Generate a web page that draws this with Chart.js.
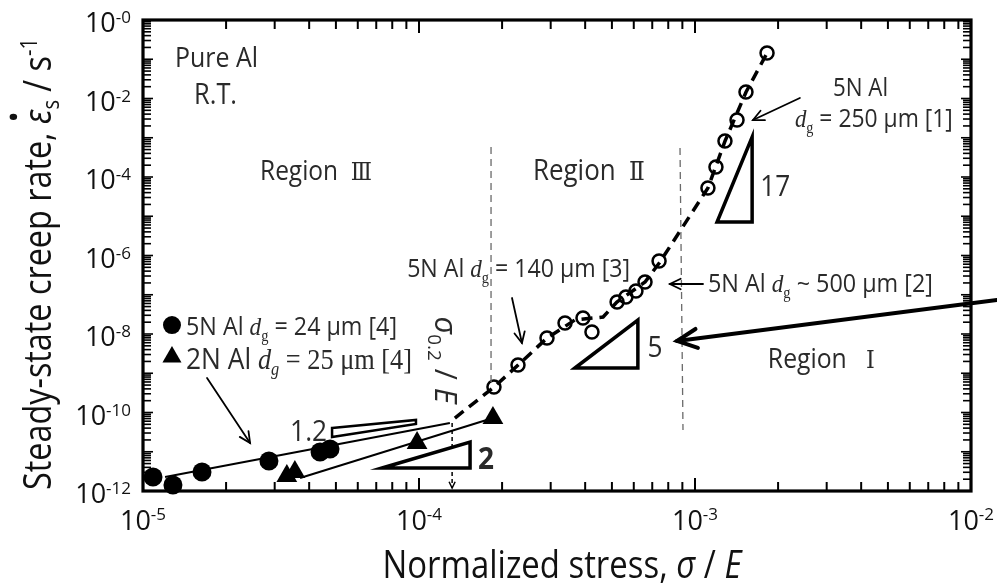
<!DOCTYPE html>
<html><head><meta charset="utf-8">
<script src="https://cdn.jsdelivr.net/npm/chart.js@4.4.1/dist/chart.umd.min.js"></script>
<style>html,body{margin:0;padding:0;background:#fff;}#wrap{width:997px;height:585px;position:relative;}</style>
</head><body><div id="wrap"><canvas id="c" width="997" height="585"></canvas></div>
<script>
// ---------------- data ----------------
const x5N24 = [1.087e-5, 1.284e-5, 1.636e-5, 2.86e-5, 4.38e-5, 4.76e-5];
const y5N24 = [2.28e-12, 1.42e-12, 3.05e-12, 5.81e-12, 9.86e-12, 1.175e-11];
const x2N25 = [3.32e-5, 3.55e-5, 9.84e-5, 1.853e-4];
const y2N25 = [2.41e-12, 3.05e-12, 1.67e-11, 7.24e-11];
const x5Ncoarse = [1.869e-4, 2.284e-4, 2.909e-4, 3.381e-4, 3.928e-4, 4.233e-4, 5.22e-4, 5.62e-4, 6.11e-4, 6.59e-4, 7.41e-4,
                   1.114e-3, 1.191e-3, 1.284e-3, 1.420e-3, 1.530e-3, 1.824e-3];
const y5Ncoarse = [4.47e-10, 1.62e-9, 7.91e-9, 1.91e-8, 2.56e-8, 1.12e-8, 6.53e-8, 8.77e-8, 1.25e-7, 2.11e-7, 7.24e-7,
                   5.25e-5, 1.80e-4, 8.26e-4, 2.83e-3, 1.47e-2, 1.44e-1];
const xFit5N = [1.202e-5, 1.294e-4];
const yFit5N = [2.28e-12, 5.40e-11];
const xFit2N = [3.707e-5, 1.854e-4];
const yFit2N = [2.14e-12, 7.24e-11];
const xFitCoarse = [1.349e-4, 1.871e-4, 2.286e-4, 2.911e-4, 3.673e-4, 4.645e-4, 5.212e-4, 6.592e-4, 7.464e-4, 1.114e-3, 1.285e-3, 1.531e-3, 1.824e-3];
const yFitCoarse = [7.24e-11, 4.47e-10, 1.62e-9, 7.91e-9, 2.28e-8, 2.71e-8, 6.53e-8, 2.11e-7, 6.82e-7, 5.25e-5, 8.26e-4, 1.466e-2, 0.144];
const xTickValues = [1e-5, 1e-4, 1e-3, 1e-2];
const xTickLabels = [['10','-5'], ['10','-4'], ['10','-3'], ['10','-2']];
const yTickValues = [1, 1e-2, 1e-4, 1e-6, 1e-8, 1e-10, 1e-12];
const yTickLabels = [['10','-0'], ['10','-2'], ['10','-4'], ['10','-6'], ['10','-8'], ['10','-10'], ['10','-12']];

// ---------------- annotations (positions in log10 data units) ----------------
const annoTexts = [
  {segs:[{t:'Pure Al'}], lx:-4.884, ly:-0.943, w:83, align:'left'},
  {segs:[{t:'R.T.'}], lx:-4.815, ly:-1.885, w:43, align:'left'},
  {segs:[{t:'Region  '},{t:'Ⅲ',num:true}], lx:-4.576, ly:-3.822, w:112, align:'left'},
  {segs:[{t:'Region  '},{t:'Ⅱ',num:true}], lx:-3.587, ly:-3.822, w:112, align:'left'},
  {segs:[{t:'Region   '},{t:'Ⅰ',num:true}], lx:-2.736, ly:-8.611, w:107, align:'left'},
  {segs:[{t:'5N Al'}], lx:-2.500, ly:-1.707, w:55, align:'left'},
  {segs:[{t:'d',italic:true,serif:true},{t:'g',sub:true,serif:true},{t:' = 250 μm [1]'}], lx:-2.638, ly:-2.497, w:158, align:'left'},
  {segs:[{t:'5N Al '},{t:'d',italic:true,serif:true},{t:'g',sub:true,serif:true},{t:' = 140 μm [3]'}], lx:-4.043, ly:-6.318, w:223, align:'left'},
  {segs:[{t:'5N Al '},{t:'d',italic:true,serif:true},{t:'g',sub:true,serif:true},{t:' ~ 500 μm [2]'}], lx:-2.953, ly:-6.701, w:225, align:'left'},
  {segs:[{t:'5N Al '},{t:'d',italic:true,serif:true},{t:'g',sub:true,serif:true},{t:' = 24 μm [4]'}], lx:-4.844, ly:-7.796, w:211, align:'left'},
  {segs:[{t:'2N Al '},{t:'d',italic:true,serif:true},{t:'g',sub:true,italic:true,serif:true},{t:' = 25 μm [4]',serif:true}], lx:-4.844, ly:-8.611, w:226, align:'left'},
  {segs:[{t:'1.2'}], lx:-4.467, ly:-10.446, w:37, align:'left'},
  {segs:[{t:'2',bold:true}], lx:-3.757, ly:-11.159, w:16, align:'center'},
  {segs:[{t:'5'}], lx:-3.145, ly:-8.331, w:15, align:'center'},
  {segs:[{t:'17'}], lx:-2.764, ly:-4.204, w:30, align:'left'}
];
const legendMarks = [{style:'circle', lx:-4.895, ly:-7.771, r:9}, {style:'triangle', lx:-4.895, ly:-8.586, r:11}];
const slopeTriangles = [
  {pts:[[-4.315,-10.395],[-4.011,-10.191],[-4.011,-10.293],[-4.315,-10.624]], lw:2.5},
  {pts:[[-4.134,-11.414],[-3.815,-10.752],[-3.815,-11.414]], lw:3.5},
  {pts:[[-3.435,-8.866],[-3.207,-7.643],[-3.207,-8.866]], lw:3.5},
  {pts:[[-2.920,-5.146],[-2.793,-2.981],[-2.793,-5.146]], lw:3.5}
];
const regionLines = [
  {from:[-3.739,-3.236], to:[-3.739,-9.299]},
  {from:[-3.0543,-3.261], to:[-3.0435,-10.446]}
];
const arrows = [
  {from:[-4.768,-9.121], to:[-4.612,-10.777], lw:1.8, head:12},
  {from:[-3.663,-7.083], to:[-3.627,-8.229], lw:1.8, head:12},
  {from:[-2.971,-6.726], to:[-3.091,-6.726], lw:1.8, head:12},
  {from:[-2.620,-1.987], to:[-2.790,-2.548], lw:1.8, head:12},
  {from:[-1.906,-7.134], to:[-3.065,-8.178], lw:4, head:22}
];
const yieldLine = {from:[-3.880,-10.268], to:[-3.880,-11.924]};
const yieldText = {segs:[{t:'σ',italic:true},{t:'0.2',sub:true},{t:' / '},{t:'E',italic:true}], lx:-3.913, ly:-8.662, w:87};

// ---------------- helpers ----------------
const SANS = '"Open Sans", "Noto Sans CJK JP", sans-serif';
const SERIF = '"Liberation Serif", "DejaVu Serif", serif';
const NUMF = '"DejaVu Serif", "Noto Sans CJK JP", serif';
const TXT = '#2a2a2a';
function segFont(s, size){
  const sz = size * ((s.sub || s.sup) ? 0.62 : 1) * (s.num ? 0.9 : 1);
  return (s.italic ? 'italic ' : '') + (s.bold ? 'bold ' : '') + sz.toFixed(2) + 'px ' + (s.num ? NUMF : s.serif ? SERIF : SANS);
}
function richWidth(ctx, segs, size){
  let w = 0;
  for (const s of segs){ ctx.font = segFont(s, size); w += ctx.measureText(s.t).width; }
  return w;
}
function drawRich(ctx, segs, x, y, size, align, sx){
  sx = sx || 1;
  const w = richWidth(ctx, segs, size) * sx;
  const x0 = align === 'left' ? x : align === 'right' ? x - w : x - w / 2;
  ctx.save(); ctx.translate(x0, y); ctx.scale(sx, 1);
  ctx.textAlign = 'left'; ctx.textBaseline = 'alphabetic';
  let cx = 0;
  for (const s of segs){
    ctx.font = segFont(s, size);
    const sw = ctx.measureText(s.t).width;
    const dy = s.sub ? size * 0.22 : s.sup ? -size * 0.38 : 0;
    ctx.fillText(s.t, cx, dy);
    if (s.dot){ ctx.beginPath(); ctx.arc(cx + sw * 0.5, -size * 1.0, size * 0.1, 0, 2 * Math.PI); ctx.fill(); }
    cx += sw;
  }
  ctx.restore();
  return w;
}
function fitSize(ctx, segs, W, sx){ return 20 * W / (richWidth(ctx, segs, 20) * (sx || 1)); }
function P(chart, l){ return [chart.scales.x.getPixelForValue(Math.pow(10, l[0])), chart.scales.y.getPixelForValue(Math.pow(10, l[1]))]; }
function seg(ctx, x1, y1, x2, y2){ ctx.beginPath(); ctx.moveTo(x1, y1); ctx.lineTo(x2, y2); ctx.stroke(); }
function arrowHead(ctx, x1, y1, x2, y2, len){
  const a = Math.atan2(y2 - y1, x2 - x1), h = 0.45;
  ctx.beginPath();
  ctx.moveTo(x2 - len * Math.cos(a - h), y2 - len * Math.sin(a - h));
  ctx.lineTo(x2, y2);
  ctx.lineTo(x2 - len * Math.cos(a + h), y2 - len * Math.sin(a + h));
  ctx.stroke();
}

const framePlugin = {
  id: 'frame',
  afterDatasetsDraw(chart){
    const {ctx, chartArea: a, scales: {x, y}} = chart;
    ctx.save();
    ctx.strokeStyle = '#000'; ctx.fillStyle = '#000'; ctx.lineCap = 'butt';
    ctx.lineWidth = 2;
    for (let k = -5; k < -2; k++) for (let m = 1; m < 10; m++){
      const px = x.getPixelForValue(m * Math.pow(10, k)); const L = m === 1 ? 13 : 9;
      seg(ctx, px, a.bottom, px, a.bottom - L); seg(ctx, px, a.top, px, a.top + L);
    }
    ctx.lineWidth = 1.6;
    for (let k = -12; k < 0; k++) for (let m = 1; m < 10; m++){
      const py = y.getPixelForValue(m * Math.pow(10, k)); const L = m === 1 ? 10 : 8;
      seg(ctx, a.left, py, a.left + L, py); seg(ctx, a.right, py, a.right - L, py);
    }
    ctx.lineWidth = 3.2;
    ctx.strokeRect(a.left, a.top, a.right - a.left, a.bottom - a.top);
    ctx.fillStyle = '#111';
    xTickValues.forEach((v, i) => {
      const px = x.getPixelForValue(v);
      ctx.font = '27px ' + SANS; const w1 = ctx.measureText(xTickLabels[i][0]).width;
      ctx.font = '17px ' + SANS; const w2 = ctx.measureText(xTickLabels[i][1]).width;
      const left = px - (w1 + w2) / 2;
      ctx.textAlign = 'left'; ctx.textBaseline = 'alphabetic';
      ctx.font = '27px ' + SANS; ctx.fillText(xTickLabels[i][0], left, a.bottom + 39);
      ctx.font = '17px ' + SANS; ctx.fillText(xTickLabels[i][1], left + w1, a.bottom + 29);
    });
    yTickValues.forEach((v, i) => {
      const py = y.getPixelForValue(v);
      ctx.font = '17px ' + SANS; const w2 = ctx.measureText(yTickLabels[i][1]).width;
      ctx.font = '27px ' + SANS; const w1 = ctx.measureText(yTickLabels[i][0]).width;
      const right = a.left - 12;
      ctx.textAlign = 'left'; ctx.textBaseline = 'alphabetic';
      ctx.fillText(yTickLabels[i][0], right - w1 - w2, py + 12);
      ctx.font = '17px ' + SANS; ctx.fillText(yTickLabels[i][1], right - w2, py + 3);
    });
    const SQ = 0.86;
    const xt = [{t:'Normalized stress, '},{t:'σ',italic:true},{t:' / '},{t:'E',italic:true}];
    drawRich(ctx, xt, 562, 578, fitSize(ctx, xt, 359, SQ), 'center', SQ);
    const yt = [{t:'Steady-state creep rate, '},{t:'ε',italic:true,dot:true},{t:'s',sub:true},{t:' / s'},{t:'-1',sup:true}];
    ctx.save(); ctx.translate(51, 264); ctx.rotate(-Math.PI / 2);
    drawRich(ctx, yt, 0, 0, fitSize(ctx, yt, 452, SQ), 'center', SQ);
    ctx.restore();
    ctx.restore();
  }
};

const annoPlugin = {
  id: 'anno',
  afterDatasetsDraw(chart){
    const ctx = chart.ctx;
    ctx.save();
    ctx.strokeStyle = '#6a6a6a'; ctx.lineWidth = 1.3; ctx.setLineDash([7, 5]);
    regionLines.forEach(l => { const p = P(chart, l.from), q = P(chart, l.to); seg(ctx, p[0], p[1], q[0], q[1]); });
    ctx.strokeStyle = '#000'; ctx.lineWidth = 1.5; ctx.setLineDash([4, 3]);
    const p = P(chart, yieldLine.from), q = P(chart, yieldLine.to);
    seg(ctx, p[0], p[1], q[0], q[1]);
    ctx.setLineDash([]); arrowHead(ctx, p[0], p[1], q[0], q[1], 7);
    ctx.lineJoin = 'miter';
    slopeTriangles.forEach(t => {
      ctx.beginPath();
      t.pts.forEach((l, i) => { const r = P(chart, l); if (i) ctx.lineTo(r[0], r[1]); else ctx.moveTo(r[0], r[1]); });
      ctx.closePath(); ctx.fillStyle = '#fff'; ctx.fill(); ctx.lineWidth = t.lw; ctx.strokeStyle = '#000'; ctx.stroke();
    });
    ctx.strokeStyle = '#000'; ctx.lineCap = 'round';
    arrows.forEach(ar => {
      const a1 = P(chart, ar.from), a2 = P(chart, ar.to);
      ctx.lineWidth = ar.lw; seg(ctx, a1[0], a1[1], a2[0], a2[1]); arrowHead(ctx, a1[0], a1[1], a2[0], a2[1], ar.head);
    });
    ctx.fillStyle = '#000';
    legendMarks.forEach(m => {
      const c = P(chart, [m.lx, m.ly]);
      ctx.beginPath();
      if (m.style === 'circle') ctx.arc(c[0], c[1], m.r, 0, 2 * Math.PI);
      else { ctx.moveTo(c[0], c[1] - m.r); ctx.lineTo(c[0] + m.r * 0.866, c[1] + m.r * 0.5); ctx.lineTo(c[0] - m.r * 0.866, c[1] + m.r * 0.5); ctx.closePath(); }
      ctx.fill();
    });
    ctx.fillStyle = TXT;
    const SQ = 0.9;
    annoTexts.forEach(t => {
      const c = P(chart, [t.lx, t.ly]); const size = fitSize(ctx, t.segs, t.w, SQ);
      drawRich(ctx, t.segs, c[0], c[1] + size * 0.36, size, t.align, SQ);
    });
    const yc = P(chart, [yieldText.lx, yieldText.ly]);
    ctx.save(); ctx.translate(yc[0] - 8, yc[1]); ctx.rotate(Math.PI / 2);
    drawRich(ctx, yieldText.segs, 0, 0, fitSize(ctx, yieldText.segs, yieldText.w), 'center');
    ctx.restore();
    ctx.restore();
  }
};

const pts = (xs, ys) => xs.map((v, i) => ({x: v, y: ys[i]}));
new Chart(document.getElementById('c'), {
  type: 'scatter',
  data: { datasets: [
    {label: 'Fit 5N Al dg = 24 μm', data: pts(xFit5N, yFit5N), showLine: true, borderColor: '#000', borderWidth: 2, pointRadius: 0, order: 6, clip: false},
    {label: 'Fit 2N Al dg = 25 μm', data: pts(xFit2N, yFit2N), showLine: true, borderColor: '#000', borderWidth: 2, pointRadius: 0, order: 6, clip: false},
    {label: 'Fit 5N Al coarse grain', data: pts(xFitCoarse, yFitCoarse), showLine: true, borderColor: '#000', borderWidth: 3.5, borderDash: [11, 7], borderCapStyle: 'butt', pointRadius: 0, order: 5, clip: false},
    {label: '5N Al dg = 24 μm [4]', data: pts(x5N24, y5N24), pointStyle: 'circle', pointRadius: 9.5, backgroundColor: '#000', borderColor: '#000', borderWidth: 0, order: 1, clip: false},
    {label: '2N Al dg = 25 μm [4]', data: pts(x2N25, y2N25), pointStyle: 'triangle', pointRadius: 12, backgroundColor: '#000', borderColor: '#000', borderWidth: 0, order: 1, clip: false},
    {label: '5N Al dg = 140-500 μm [1-3]', data: pts(x5Ncoarse, y5Ncoarse), pointStyle: 'circle', pointRadius: 6.5, backgroundColor: 'rgba(0,0,0,0)', borderColor: '#000', borderWidth: 2.5, order: 2, clip: false}
  ]},
  options: {
    responsive: false, animation: false, devicePixelRatio: 1,
    layout: {padding: {left: 143, right: 26, top: 20, bottom: 94}},
    plugins: {legend: {display: false}, tooltip: {enabled: false}},
    scales: {
      x: {type: 'logarithmic', min: 1e-5, max: 1e-2, display: false},
      y: {type: 'logarithmic', min: 1e-12, max: 1, display: false}
    }
  },
  plugins: [framePlugin, annoPlugin]
});
</script></body></html>
